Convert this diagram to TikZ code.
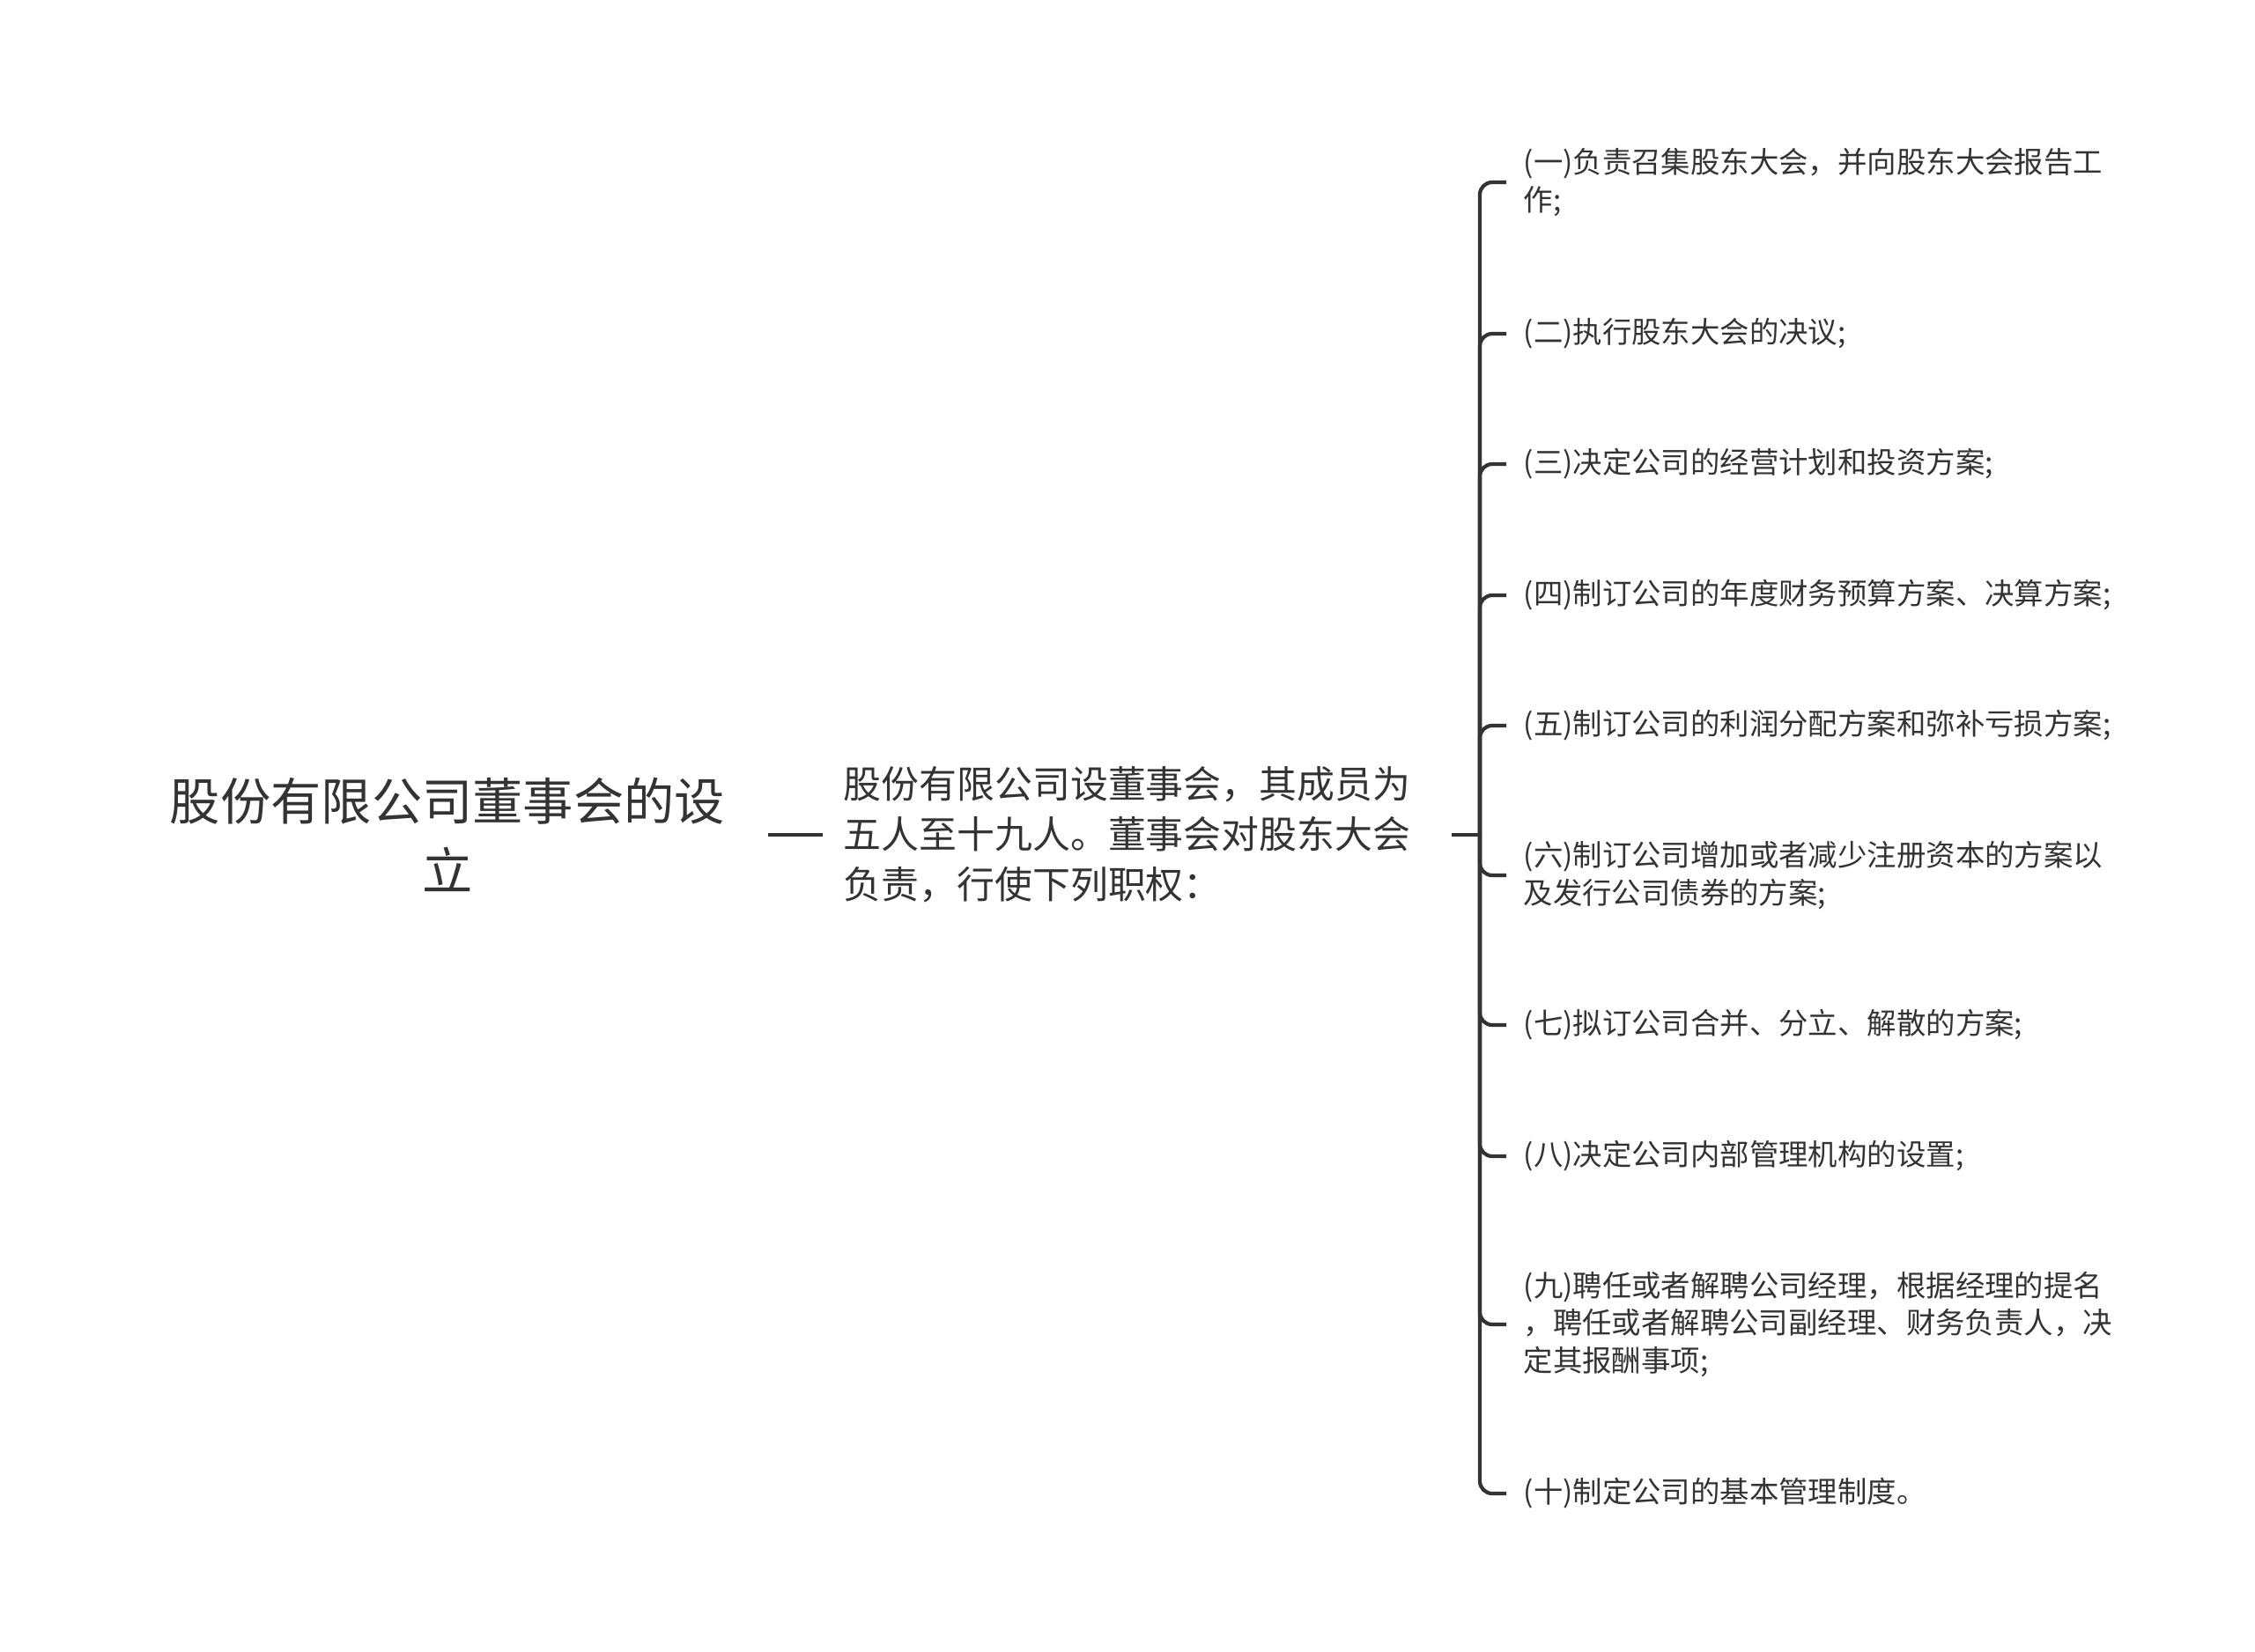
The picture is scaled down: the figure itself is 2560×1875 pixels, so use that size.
\documentclass[tikz,border=0pt]{standalone}
\usepackage{fontspec}
\setmainfont{Noto Sans CJK SC}
\usetikzlibrary{calc}
\definecolor{ink}{HTML}{333333}
\tikzset{>=stealth}
\tikzset{
  rootbox/.style={inner sep=0pt, align=center, text=ink, font=\fontsize{16.3}{22.5}\selectfont},
  midbox/.style={inner sep=0pt, anchor=west, align=left, text=ink, font=\fontsize{12.2}{16.2}\selectfont},
  itembox/.style={inner xsep=0.19cm, inner ysep=0pt, anchor=west, align=left, text=ink, font=\fontsize{9.5}{12.1}\selectfont},
  link/.style={draw=ink, line width=1.2pt},
  branch/.style={draw=ink, line width=1.2pt, rounded corners=0.14cm},
}

\begin{document}
\begin{tikzpicture}[x=0.01cm,y=-0.01cm]
          \useasboundingbox (0,0) rectangle (2560,1875);

          % root and the board node
          \node[rootbox] (root) at (508,948) {股份有限公司董事会的设\\立};
          \node[midbox] (board) at (957,948) {股份有限公司设董事会，其成员为\\五人至十九人。董事会对股东大会\\负责，行使下列职权：};
          \coordinate (jn) at (1680,948);

          % the ten powers
          \node[itembox] (it1) at (1710,207) {(一)负责召集股东大会，并向股东大会报告工\\作;};
          \node[itembox] (it2) at (1710,379) {(二)执行股东大会的决议;};
          \node[itembox] (it3) at (1710,527) {(三)决定公司的经营计划和投资方案;};
          \node[itembox] (it4) at (1710,676) {(四)制订公司的年度财务预算方案、决算方案;};
          \node[itembox] (it5) at (1710,824) {(五)制订公司的利润分配方案和弥补亏损方案;};
          \node[itembox] (it6) at (1710,994) {(六)制订公司增加或者减少注册资本的方案以\\及发行公司债券的方案;};
          \node[itembox] (it7) at (1710,1164) {(七)拟订公司合并、分立、解散的方案;};
          \node[itembox] (it8) at (1710,1313) {(八)决定公司内部管理机构的设置;};
          \node[itembox] (it9) at (1710,1504) {(九)聘任或者解聘公司经理，根据经理的提名\\，聘任或者解聘公司副经理、财务负责人，决\\定其报酬事项;};
          \node[itembox] (it10) at (1710,1696) {(十)制定公司的基本管理制度。};

          % connectors
          \draw[link, shorten <=0.48cm, shorten >=0.23cm] (root.east) -- (board.west);
          \draw[link, shorten <=0.46cm] (board.east) -- (jn);

          % bracket branches
          \draw[branch] (jn) |- (it1.west);
          \draw[branch] (jn) |- (it2.west);
          \draw[branch] (jn) |- (it3.west);
          \draw[branch] (jn) |- (it4.west);
          \draw[branch] (jn) |- (it5.west);
          \draw[branch] (jn) |- (it6.west);
          \draw[branch] (jn) |- (it7.west);
          \draw[branch] (jn) |- (it8.west);
          \draw[branch] (jn) |- (it9.west);
          \draw[branch] (jn) |- (it10.west);
\end{tikzpicture}
\end{document}
